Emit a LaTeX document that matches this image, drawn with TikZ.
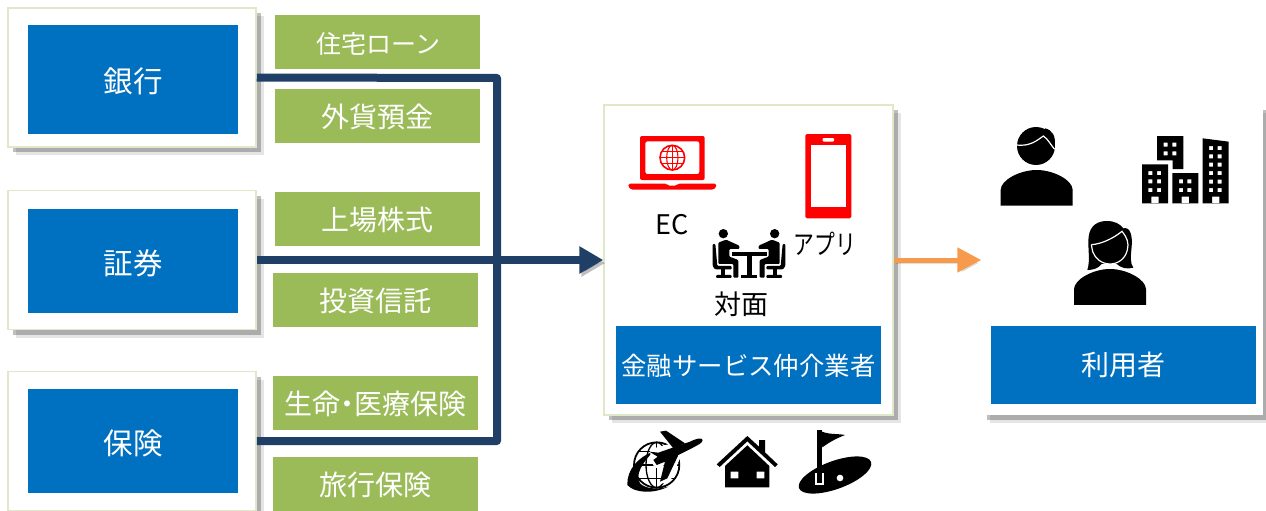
\documentclass[tikz,border=0pt]{standalone}
\usepackage{fontspec}
\setmainfont{Noto Sans CJK JP}
\usetikzlibrary{arrows.meta,shadows}
\definecolor{boxblue}{HTML}{0070C0}
\definecolor{boxgreen}{HTML}{9BBB59}
\definecolor{boxedge}{HTML}{DFE8C8}
\definecolor{linenavy}{HTML}{1F3F66}
\definecolor{lineorange}{HTML}{F79A4B}
\tikzset{
	softshadow/.style={drop shadow={shadow xshift=8pt,shadow yshift=-8pt,opacity=0.1,fill=black},drop shadow={shadow xshift=5pt,shadow yshift=-5pt,opacity=0.25,fill=black}},
	outerbox/.style={draw=boxedge,line width=1.5pt,fill=white,softshadow,inner sep=0pt,minimum width=248,minimum height=139},
	bigbox/.style={outerbox,minimum width=289,minimum height=310},
	userbox/.style={bigbox,draw=none,minimum width=281},
	bluebox/.style={fill=boxblue,text=white,inner sep=0pt,minimum width=210,minimum height=104,text height=26.4pt,text depth=0pt,font=\fontsize{29.5}{31}\selectfont},
	servicebox/.style={bluebox,minimum width=265,minimum height=78,text height=20.3pt,font=\fontsize{25.4}{27}\selectfont},
	greenbox/.style={fill=boxgreen,text=white,inner sep=0pt,minimum width=205,minimum height=54,text height=23.3pt,text depth=0pt,font=\fontsize{28}{30}\selectfont},
	plainlabel/.style={inner sep=0pt,font=\fontsize{27}{29}\selectfont},
	navyline/.style={draw=linenavy,line width=8pt,preaction={draw=black,opacity=0.25,transform canvas={xshift=2pt,yshift=-3pt}}},
	orangeline/.style={draw=lineorange,line width=5pt,preaction={draw=black,opacity=0.12,transform canvas={xshift=2pt,yshift=-3pt}}}
}

\begin{document}
\begin{tikzpicture}[x=1pt,y=-1pt]
	%%%%% START %%%%%
	\useasboundingbox (0,0) rectangle (1266,511);

	\node[outerbox] (bank) at (132,77.5) {};
	\node[outerbox] (securities) at (132,260) {};
	\node[outerbox] (insurance) at (132,441) {};
	\node[bluebox,minimum height=109] (banktext) at (133,79.5) {銀行};
	\node[bluebox] (securitiestext) at (133,261) {証券};
	\node[bluebox] (insurancetext) at (133,441) {保険};

	\coordinate (busturn) at (497,78);
	\draw[navyline,line join=round] (bank.east) -- (busturn) |- (insurance.east);

	\node[greenbox] (loan) at (377.5,42) {\hspace{2pt}\fontsize{25}{27}\selectfont 住宅ローン};
	\node[greenbox] (deposit) at (377.5,116) {外貨預金};
	\node[greenbox] (stock) at (377.5,219) {上場株式};
	\node[greenbox] (fund) at (375.5,300) {投資信託};
	\node[greenbox] (life) at (375.5,403) {生命\hspace{-7pt}・\hspace{-7pt}医療保険};
	\node[greenbox] (travel) at (375.5,484) {旅行保険};

	\node[bigbox] (broker) at (748.5,260) {};
	\node[userbox] (user) at (1122.5,260) {};
	\node[servicebox] (brokertext) at (748.5,365) {金融サービス仲介業者};
	\node[servicebox,font=\fontsize{28}{30}\selectfont,text height=21.2pt] (usertext) at (1123.5,365) {利用者};

	\draw[navyline,-{Triangle[length=24pt,width=26pt]}] (securities.east) -- (broker.west);
	\draw[orangeline,-{Triangle[length=24pt,width=24pt]}] (broker.east) -- (user.west);

	\node[plainlabel] (ec) at (672,225) {EC};
	\node[plainlabel] (app) at (825,244) {\scalebox{0.77}[1]{アプリ}};
	\node[plainlabel] (meet) at (741,304) {対面};

	% laptop
	\begin{scope}[shift={(600,100)},scale=1/3]
		\fill[red,rounded corners=2,even odd rule] (120,108) rectangle (314,240) (136,124) rectangle (298,222);
		\fill[red,rounded corners=1.5] (85,251) -- (200,251) -- (204,257) -- (230,257) -- (234,251) -- (349,251) -- (349,260) -- (340,269) -- (94,269) -- (85,260) -- cycle;
		\draw[red,line width=1.6] (217,173) circle (37);
		\draw[red,line width=1.1] (217,173) ellipse (17 and 37);
		\draw[red,line width=1.1] (217,136) -- (217,210) (180,173) -- (254,173) (186,155) -- (248,155) (186,191) -- (248,191);
		% phone
		\fill[red,rounded corners=1.5] (616,102) rectangle (754,355);
		\fill[white] (634,136) rectangle (737,320);
		\fill[white,rounded corners=1] (668,114) rectangle (702,125);
	\end{scope}

	% two people at a table
	\begin{scope}[shift={(600,100)},scale=1/3]
		\fill (422,526) rectangle (472,534);
		\fill (440,460) rectangle (455,530);
		\fill (395,455) rectangle (500,467);
		\foreach \side/\xpos in {1/0,-1/894} {
			\begin{scope}[shift={(\xpos,0)},xscale=\side]
				\fill (370,401) circle (14);
				\fill[rounded corners=1] (355,428) -- (378,419) -- (418,437) -- (418,447) -- (388,447) -- (388,470) -- (415,480) -- (415,533) -- (400,533) -- (400,492) -- (355,492) -- cycle;
				\fill[rounded corners=1] (338,432) -- (346,432) -- (352,498) -- (395,498) -- (395,508) -- (345,508) -- (338,498) -- cycle;
				\fill (364,508) rectangle (376,526);
				\fill[rounded corners=1] (348,525) rectangle (395,534);
			\end{scope}
		}
	\end{scope}

	% man, buildings, woman
	\begin{scope}[shift={(980,100)},scale=1/3]
		\fill (168,138) circle (57);
		\fill (195,85) .. controls (218,90) and (228,110) .. (224,138) -- (190,120) -- cycle;
		\draw[white,line width=1.2] (108,135) .. controls (150,140) and (170,122) .. (190,108) .. controls (205,118) and (212,135) .. (224,148);
		\fill (62,317) -- (62,270) .. controls (62,240) and (120,210) .. (170,210) .. controls (220,210) and (278,240) .. (278,270) -- (278,317) -- cycle;

		\fill[even odd rule] (486,193) rectangle (564,310) (505,213) rectangle (517,225) (531,213) rectangle (543,225) (505,238) rectangle (517,250) (531,238) rectangle (543,250) (505,264) rectangle (517,276) (531,264) rectangle (543,276) (514,290) rectangle (536,311);
		\fill[even odd rule] (531,108) -- (610,108) -- (610,207) -- (578,207) -- (578,181) -- (531,181) -- cycle (551,128) rectangle (563,140) (577,128) rectangle (589,140) (551,154) rectangle (563,166) (577,154) rectangle (589,166);
		\fill[even odd rule] (577,219) rectangle (655,310) (597,238) rectangle (609,250) (622,238) rectangle (634,250) (597,264) rectangle (609,276) (622,264) rectangle (634,276) (605,290) rectangle (627,311);
		\fill[even odd rule] (668,115) -- (746,125) -- (746,310) -- (668,310) -- cycle (687,138) rectangle (699,150) (713,138) rectangle (725,150) (687,163) rectangle (699,175) (713,163) rectangle (725,175) (687,188) rectangle (699,200) (713,188) rectangle (725,200) (687,213) rectangle (699,225) (713,213) rectangle (725,225) (687,239) rectangle (699,251) (713,239) rectangle (725,251) (687,264) rectangle (699,276) (713,264) rectangle (725,276) (696,290) rectangle (718,311);

		\fill (322,510) .. controls (332,480) and (322,440) .. (326,410) .. controls (330,375) and (355,363) .. (380,363) .. controls (405,363) and (420,372) .. (430,385) .. controls (450,380) and (458,405) .. (455,440) .. controls (452,470) and (450,490) .. (460,503) .. controls (440,508) and (425,505) .. (410,492) -- (365,492) .. controls (355,505) and (340,510) .. (322,510) -- cycle;
		\draw[white,line width=1.2] (334,434) .. controls (365,432) and (400,415) .. (426,394) .. controls (440,410) and (448,430) .. (442,450) .. controls (435,480) and (410,492) .. (390,492) .. controls (365,492) and (345,475) .. (338,455) -- (334,434);
		\fill (282,615) -- (282,568) .. controls (282,538) and (340,507) .. (390,507) .. controls (440,507) and (498,538) .. (498,568) -- (498,615) -- cycle;
	\end{scope}

	% travel, house, golf
	\begin{scope}[shift={(610,410)},scale=1/3]
		\draw[line width=1.8] (140,165) circle (68);
		\draw[line width=1.3] (140,97) -- (140,233) (72,165) -- (208,165) (85,125) -- (195,125) (85,205) -- (195,205);
		\draw[line width=1.3] (140,165) ellipse (32 and 68);
		\fill (52,225) .. controls (50,180) and (85,140) .. (130,125) .. controls (95,160) and (75,195) .. (90,220) .. controls (105,235) and (135,240) .. (175,230) .. controls (130,252) and (75,250) .. (52,225) -- cycle;
		\fill[white] (120,118) -- (240,85) -- (280,100) -- (210,145) -- (180,215) -- (150,222) -- (165,165) -- (135,175) -- (122,150) -- cycle;
		\fill (118,125) -- (145,128) -- (240,95) .. controls (260,85) and (275,82) .. (278,90) .. controls (278,100) and (262,105) .. (245,115) -- (205,135) -- (172,205) -- (150,215) -- (165,155) -- (140,165) -- (130,150) -- (143,140) -- cycle;
		\fill (150,65) -- (168,62) -- (225,100) -- (190,115) -- cycle;

		\fill (320,163) -- (412,78) -- (447,110) -- (447,90) -- (465,90) -- (465,127) -- (503,163) -- (495,171) -- (412,94) -- (329,171) -- cycle;
		\fill[even odd rule] (345,168) -- (412,106) -- (478,168) -- (478,232) -- (345,232) -- cycle (362,185) rectangle (385,205) (440,185) rectangle (463,205);

		\fill[rotate around={20:(675,195)}] (675,195) ellipse (115 and 42);
		\fill[white] (690,204) circle (10);
		\fill[white] (614,190) rectangle (643,226);
		\fill (620,60) rectangle (637,220);
		\fill (630,62) .. controls (655,75) and (680,70) .. (705,75) .. controls (680,85) and (660,95) .. (637,112) -- cycle;
	\end{scope}
	%%%%% END %%%%%
\end{tikzpicture}
\end{document}
